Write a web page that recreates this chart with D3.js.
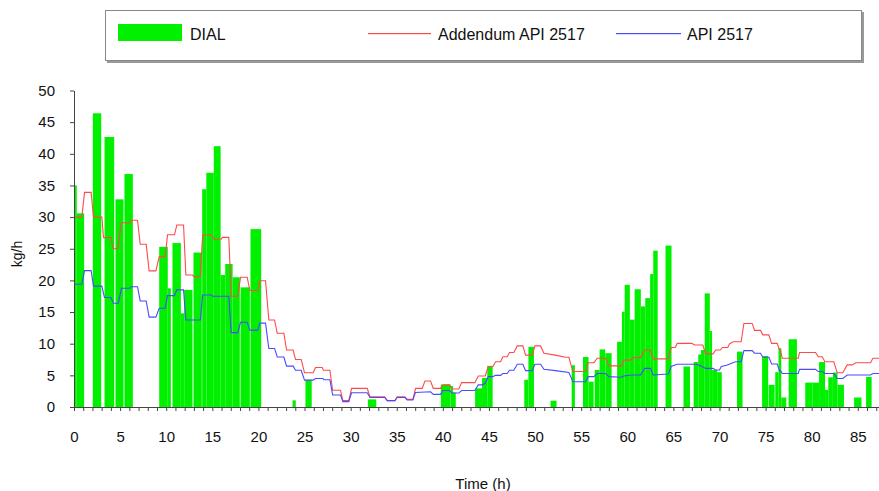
<!DOCTYPE html>
<html>
<head>
<meta charset="utf-8">
<script src="https://cdn.jsdelivr.net/npm/d3@7/dist/d3.min.js"></script>
<style>
  html, body { margin: 0; padding: 0; background: #fff; }
  svg { display: block; font-family: "Liberation Sans", Arial, sans-serif; }
</style>
</head>
<body>
<svg id="chart" width="879" height="491"></svg>
<script>
// DIAL measured emission rate: each bar spans [start, end] hours with its value in kg/h
const dialStart = [0, 0.3, 2.04, 3.31, 4.5, 5.47, 9.24, 10.17, 10.68, 11.59, 11.95, 12.96, 13.9, 14.35, 15.16, 15.9, 16.4, 17.2, 18.06, 19.14,
  23.7, 25.1, 31.87, 39.78, 40.84, 41.1, 43.5, 44.25, 44.82, 48.83, 49.28, 51.68, 53.97, 55.2, 55.8, 56.47, 57.0, 57.62,
  58.9, 59.42, 59.72, 60.28, 60.8, 61.47, 61.95, 62.48, 62.82, 64.15, 66.1, 67.2, 67.7, 68.0, 68.4, 68.95, 69.2, 69.75,
  71.9, 74.62, 75.33, 76.05, 76.4, 76.7, 77.5, 79.3, 80.1, 80.8, 81.45, 81.8, 82.3, 82.8, 84.6, 85.9];
const dialEnd = [0.3, 1.1, 2.95, 4.36, 5.37, 6.38, 10.17, 10.5, 11.59, 11.95, 12.85, 13.86, 14.35, 15.16, 15.9, 16.4, 17.2, 17.98, 19.07, 20.3,
  24.05, 25.78, 32.78, 40.84, 41.1, 41.4, 44.25, 44.82, 45.4, 49.28, 49.88, 52.33, 54.32, 55.8, 56.35, 57.0, 57.6, 58.3,
  59.42, 59.72, 60.28, 60.8, 61.47, 61.95, 62.48, 62.82, 63.3, 64.8, 66.8, 67.7, 68.0, 68.4, 68.95, 69.2, 69.75, 70.25,
  72.5, 75.28, 75.98, 76.4, 76.7, 77.25, 78.4, 80.1, 80.8, 81.45, 81.8, 82.3, 82.8, 83.5, 85.4, 86.5];
const dialValue = [35.0, 30.6, 46.4, 42.65, 32.8, 36.8, 25.3, 18.75, 25.9, 14.8, 18.5, 24.4, 34.4, 37.0, 41.2, 20.85, 22.6, 20.5, 18.9, 28.1,
  1.05, 4.3, 1.2, 3.55, 3.3, 2.3, 2.95, 4.6, 6.5, 4.3, 9.5, 1.0, 6.6, 7.9, 4.0, 5.85, 9.1, 8.5,
  10.3, 15.05, 19.3, 13.8, 18.6, 15.9, 17.2, 21.0, 24.7, 25.5, 6.4, 7.1, 8.3, 9.0, 17.95, 12.0, 5.85, 5.5,
  8.75, 8.05, 3.5, 5.5, 9.3, 1.5, 10.7, 3.85, 3.85, 7.1, 2.7, 4.7, 5.45, 3.5, 1.5, 4.75];

// Addendum API 2517 estimate (time in h, kg/h)
const addendumTime = [0, 0.85, 1.14, 1.86, 2.11, 3.02, 3.2, 4.0, 4.28, 4.75, 5.12, 6.09, 6.2, 6.89, 7.18, 7.83, 8.15, 8.88, 9.24, 9.89,
  10.14, 10.9, 11.15, 11.88, 12.13, 12.85, 13.0, 13.7, 13.95, 14.88, 15.17, 15.96, 16.1, 16.79, 17.05, 17.77, 18.06, 18.78, 19.07, 19.94,
  20.16, 20.77, 21.13, 21.75, 22.04, 22.76, 23.05, 23.77, 24.02, 24.64, 25.0, 25.94, 26.19, 26.92, 27.05, 27.75, 28.05, 28.9, 29.16, 29.8,
  30.1, 31.8, 32.1, 33.7, 33.97, 34.8, 35.05, 35.88, 36.14, 36.75, 37.04, 37.77, 38.05, 38.67, 38.96, 39.75, 40.0, 40.73, 41.0, 41.74,
  42.03, 43.47, 43.84, 44.6, 44.92, 45.43, 45.72, 46.26, 46.51, 46.98, 47.23, 47.7, 48.07, 48.68, 48.97, 49.7, 49.98, 50.6, 50.96, 52.2,
  53.3, 53.67, 54.1, 55.48, 55.77, 56.38, 56.74, 57.65, 58.0, 59.4, 59.63, 60.4, 60.6, 61.44, 61.87, 62.52, 62.8, 64.45, 64.75, 65.2,
  65.42, 67.0, 67.3, 68.2, 68.5, 69.3, 69.6, 70.1, 70.3, 70.9, 71.1, 71.5, 72.35, 72.65, 73.55, 73.8, 74.45, 74.7, 75.36, 75.65,
  76.26, 76.51, 76.62, 76.8, 78.54, 78.68, 80.42, 80.71, 81.14, 81.43, 82.4, 82.77, 83.38, 83.85, 84.4, 84.76, 86.38, 86.64, 87.3];
const addendumValue = [30.0, 30.0, 33.9, 33.9, 30.0, 30.0, 26.75, 26.75, 25.0, 25.0, 29.1, 29.1, 29.5, 29.5, 25.7, 25.7, 21.5, 21.5, 23.75, 23.75,
  27.2, 27.2, 28.75, 28.75, 20.85, 20.85, 20.6, 20.6, 27.2, 27.2, 26.5, 26.5, 26.8, 26.8, 17.5, 17.5, 20.5, 20.5, 18.4, 18.4,
  19.95, 19.95, 13.75, 13.75, 11.65, 11.65, 9.0, 9.0, 7.5, 7.5, 5.4, 5.4, 6.25, 6.25, 5.8, 5.8, 2.65, 2.65, 1.0, 1.0,
  2.95, 2.95, 1.6, 1.6, 1.0, 1.0, 1.6, 1.6, 1.2, 1.2, 2.95, 2.95, 4.1, 4.1, 2.95, 2.95, 3.5, 3.5, 2.85, 2.85,
  3.85, 3.85, 4.9, 4.9, 6.4, 6.4, 7.15, 7.15, 7.95, 7.95, 8.6, 8.6, 9.65, 9.65, 8.2, 8.2, 9.65, 9.65, 8.5, 8.2,
  7.85, 7.85, 5.6, 5.6, 7.0, 7.0, 7.7, 7.7, 6.5, 6.5, 7.4, 7.4, 7.8, 7.8, 9.0, 9.0, 7.6, 7.6, 9.4, 9.4,
  10.05, 10.05, 9.8, 9.8, 8.4, 8.4, 9.0, 9.0, 9.4, 9.4, 10.0, 10.3, 10.3, 13.2, 13.2, 12.1, 12.1, 11.4, 11.4, 10.05,
  10.05, 9.0, 9.0, 7.7, 7.7, 8.6, 8.6, 7.95, 7.95, 7.15, 7.15, 5.4, 5.4, 6.65, 6.65, 7.0, 7.0, 7.7, 7.7];

// API 2517 estimate (time in h, kg/h)
const apiTime = [0, 0.85, 1.14, 1.86, 2.11, 3.02, 3.3, 4.0, 4.28, 4.8, 5.15, 6.09, 6.2, 6.89, 7.18, 7.83, 8.15, 8.88, 9.24, 9.89,
  10.14, 10.9, 11.15, 11.88, 12.13, 13.7, 13.95, 14.88, 15.0, 16.79, 17.05, 17.77, 18.06, 18.78, 19.07, 19.94, 20.16, 20.77, 21.13, 21.75,
  22.04, 22.76, 23.05, 23.77, 24.02, 24.64, 25.0, 25.94, 26.19, 27.0, 27.1, 27.75, 28.05, 28.9, 29.16, 29.8, 30.1, 31.8, 32.1, 33.7,
  33.97, 34.8, 35.05, 35.88, 36.14, 36.75, 37.04, 38.67, 38.96, 39.75, 40.0, 40.73, 41.0, 41.74, 42.03, 43.47, 43.84, 44.27, 44.6, 44.92,
  45.43, 45.72, 46.26, 46.51, 46.98, 47.23, 47.7, 48.07, 48.68, 48.97, 49.7, 49.98, 50.6, 50.96, 52.2, 53.67, 54.1, 55.48, 55.77, 56.38,
  56.74, 57.65, 58.0, 59.3, 59.63, 60.5, 61.44, 61.87, 62.52, 62.8, 64.45, 64.75, 65.4, 67.5, 68.1, 68.5, 69.3, 69.57, 70.0, 70.2,
  70.77, 71.74, 72.35, 72.65, 73.55, 73.8, 74.45, 74.7, 75.36, 75.65, 76.26, 76.51, 76.62, 76.8, 78.54, 78.68, 80.42, 80.71, 81.14, 81.43,
  82.4, 82.77, 83.38, 83.85, 86.38, 86.64, 87.3];
const apiValue = [19.4, 19.4, 21.55, 21.55, 19.1, 19.1, 17.3, 17.3, 16.4, 16.4, 18.75, 18.75, 19.0, 19.0, 16.75, 16.75, 14.2, 14.2, 15.6, 15.6,
  17.6, 17.6, 18.5, 18.5, 13.75, 13.75, 17.7, 17.7, 17.5, 17.5, 11.75, 11.75, 13.4, 13.4, 12.15, 12.15, 13.25, 13.25, 9.25, 9.25,
  7.9, 7.9, 6.45, 6.45, 5.8, 5.8, 4.25, 4.25, 4.5, 4.5, 4.3, 4.3, 1.9, 1.9, 0.85, 0.85, 2.25, 2.25, 1.5, 1.5,
  1.0, 1.0, 1.5, 1.5, 1.1, 1.1, 2.3, 2.4, 2.0, 2.0, 2.6, 2.6, 2.2, 2.2, 2.6, 2.6, 3.5, 3.5, 3.75, 4.8,
  4.8, 5.0, 5.0, 5.3, 5.3, 5.8, 5.8, 6.75, 6.75, 5.75, 5.75, 6.75, 6.75, 5.95, 5.75, 5.45, 4.0, 4.0, 4.8, 4.8,
  5.3, 5.3, 4.8, 4.7, 4.9, 5.05, 5.05, 6.1, 6.1, 5.05, 5.2, 6.4, 6.75, 6.75, 6.4, 6.1, 6.1, 5.85, 5.85, 6.4,
  6.6, 7.15, 7.15, 8.9, 8.9, 8.5, 8.5, 7.85, 7.85, 6.8, 6.8, 5.75, 5.75, 5.3, 5.3, 5.95, 5.95, 5.6, 5.6, 5.3,
  5.3, 4.5, 4.5, 5.05, 5.05, 5.3, 5.3];

const yTicks = [0, 5, 10, 15, 20, 25, 30, 35, 40, 45, 50];
const xLabelTicks = [0, 5, 10, 15, 20, 25, 30, 35, 40, 45, 50, 55, 60, 65, 70, 75, 80, 85];
const seriesNames = ["DIAL", "Addendum API 2517", "API 2517"];
const seriesColors = ["#00f000", "#ff4a4a", "#4a4aff"];

const svg = d3.select("#chart");

const x = d3.scaleLinear().domain([0, 87.3]).range([74, 879]);
const y = d3.scaleLinear().domain([0, 50]).range([407, 90.5]);

// bars
const bars = dialStart.map((s, i) => ({ s, e: dialEnd[i], v: dialValue[i] }));
svg.append("g")
  .selectAll("rect")
  .data(bars)
  .join("rect")
  .attr("x", d => x(d.s))
  .attr("width", d => x(d.e) - x(d.s))
  .attr("y", d => y(d.v))
  .attr("height", d => y(0) - y(d.v))
  .attr("fill", seriesColors[0]);

// estimate lines
const line = d3.line().x(d => x(d[0])).y(d => y(d[1]));
svg.append("path")
  .datum(addendumTime.map((t, i) => [t, addendumValue[i]]))
  .attr("d", line)
  .style("fill", "none")
  .style("stroke", seriesColors[1])
  .style("stroke-width", 1.1);
svg.append("path")
  .datum(apiTime.map((t, i) => [t, apiValue[i]]))
  .attr("d", line)
  .style("fill", "none")
  .style("stroke", seriesColors[2])
  .style("stroke-width", 1.1);

// axes
const yAxis = svg.append("g")
  .attr("transform", `translate(${x(0)},0)`)
  .call(d3.axisLeft(y).tickValues(yTicks).tickSize(4).tickSizeOuter(0).tickPadding(15));
const xAxis = svg.append("g")
  .attr("transform", `translate(0,${y(0)})`)
  .call(d3.axisBottom(x).tickValues(d3.range(0, 88)).tickSize(4).tickSizeOuter(0).tickPadding(20)
    .tickFormat(d => xLabelTicks.includes(d) ? d : ""));
[yAxis, xAxis].forEach(g => {
  g.selectAll("path, line").attr("stroke", "#444");
  g.selectAll("text").attr("fill", "#111").style("font-size", "15px")
    .style("font-family", "'Liberation Sans', Arial, sans-serif");
});

// axis titles
svg.append("text")
  .attr("transform", "translate(22,254) rotate(-90)")
  .attr("text-anchor", "middle")
  .attr("fill", "#111")
  .style("font-size", "14px")
  .text("kg/h");
svg.append("text")
  .attr("x", 483).attr("y", 489)
  .attr("text-anchor", "middle")
  .attr("fill", "#111")
  .style("font-size", "15px")
  .text("Time (h)");

// legend
const lg = svg.append("g");
lg.append("rect").attr("x", 107).attr("y", 12).attr("width", 757).attr("height", 51).attr("fill", "#999");
lg.append("rect").attr("x", 105.5).attr("y", 10.5).attr("width", 756).attr("height", 50)
  .attr("fill", "#fff").attr("stroke", "#888").attr("stroke-width", 1);
lg.append("rect").attr("x", 118).attr("y", 24).attr("width", 64).attr("height", 17).attr("fill", seriesColors[0]);
lg.append("rect").attr("x", 368).attr("y", 33).attr("width", 63).attr("height", 1.2)
  .style("fill", seriesColors[1]);
lg.append("rect").attr("x", 616).attr("y", 33).attr("width", 65).attr("height", 1.2)
  .style("fill", seriesColors[2]);
const legendTextX = [190, 438, 687];
lg.selectAll("text.lt")
  .data(seriesNames)
  .join("text")
  .attr("class", "lt")
  .attr("x", (d, i) => legendTextX[i])
  .attr("y", 40)
  .attr("fill", "#111")
  .style("font-size", "16px")
  .text(d => d);
</script>
</body>
</html>
